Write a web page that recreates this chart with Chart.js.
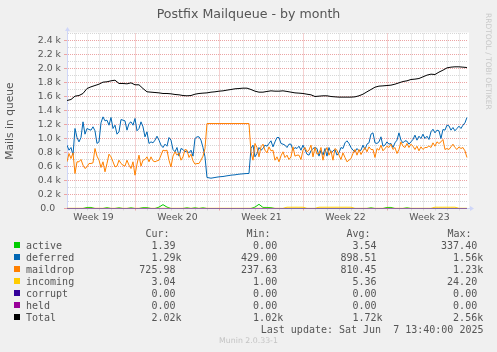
<!DOCTYPE html>
<html>
<head>
<meta charset="utf-8">
<title>Postfix Mailqueue - by month</title>
<script src="https://cdn.jsdelivr.net/npm/chart.js@4/dist/chart.umd.min.js"></script>
<style>
  html, body { margin: 0; padding: 0; background: #f0f0f0; }
  #wrap { position: relative; width: 497px; height: 352px; overflow: hidden; font-family: 'DejaVu Sans'; color: #555; }
  #chart { position: absolute; left: 0; top: 0; }
  .abs { position: absolute; white-space: pre; }
  .mono { font-family: 'DejaVu Sans Mono'; font-size: 10px; line-height: 12px; color: #555; }
  .box { position: absolute; width: 6px; height: 6px; }
  #title { left: 0; width: 497px; top: 6px; text-align: center; font-size: 12.6px; line-height: 15px; color: #555; }
  #munin { left: 0; width: 497px; top: 336px; text-align: center; font-size: 7.8px; line-height: 10px; color: #c4c4c4; }
  #rrd { left: 484px; top: 13px; writing-mode: vertical-rl; font-size: 7.5px; line-height: 9px; color: #c8c8c8; }
</style>
</head>
<body>
<div id="wrap">
  <canvas id="chart" width="497" height="352"></canvas>
  <div id="title" class="abs">Postfix Mailqueue - by month</div>
  <div id="rrd" class="abs">RRDTOOL / TOBI OETIKER</div>
  <div id="legend"></div>
  <div id="munin" class="abs">Munin 2.0.33-1</div>
</div>
<script>
// time axis: days after Monday of week 19
const startDay = 1.29;
const stepCoarse = 1 / 3;   // one sample every 8 hours
const stepFine = 1 / 6;     // one sample every 4 hours
const weekNames = ['Week 19', 'Week 20', 'Week 21', 'Week 22', 'Week 23'];
const yLabels = ['0.0  ', '0.2 k', '0.4 k', '0.6 k', '0.8 k', '1.0 k', '1.2 k', '1.4 k', '1.6 k', '1.8 k', '2.0 k', '2.2 k', '2.4 k'];

// 8-hourly
const active = [0, 0, 0, 0, 0, 15, 15, 0, 0, 0, 12, 0, 0, 10, 0, 0, 10, 0, 0, 12,
  12, 0, 0, 20, 55, 20, 0, 0, 0, 0, 10, 0, 10, 0, 10, 0, 0, 0, 0, 0,
  0, 0, 0, 0, 0, 0, 0, 20, 60, 15, 15, 12, 0, 0, 0, 0, 0, 0, 0, 0,
  0, 0, 0, 0, 0, 0, 0, 0, 0, 0, 0, 0, 0, 0, 0, 0, 10, 0, 0, 0,
  15, 15, 0, 0, 0, 10, 0, 0, 0, 0, 0, 0, 0, 0, 0, 0, 0, 0, 0, 0, 0];

// 4-hourly
const deferred = [905, 833, 871, 762, 1143, 1014, 952, 1014, 1238, 1062, 1143, 1129, 1119, 1167, 1110, 929, 952, 1224, 1309, 1252,
  1262, 1190, 1300, 1143, 1190, 1062, 1095, 1271, 1262, 1252, 1119, 1214, 1238, 1190, 1286, 1110, 1143, 1238, 1167, 1024,
  1095, 929, 952, 938, 976, 1033, 976, 905, 871, 919, 890, 1014, 976, 843, 810, 871, 748, 857, 843, 810,
  824, 795, 833, 748, 1000, 1024, 1024, 976, 871, 738, 443, 438, 433, 438, 443, 448, 452, 455, 457, 462,
  467, 471, 476, 479, 481, 486, 490, 493, 495, 498, 500, 500, 857, 905, 738, 786, 871, 833, 857, 905,
  890, 929, 967, 881, 952, 1014, 1014, 929, 919, 905, 871, 919, 919, 833, 871, 857, 890, 833, 905, 843,
  776, 762, 824, 857, 871, 857, 748, 833, 762, 857, 748, 871, 795, 824, 843, 762, 795, 871, 857, 938,
  967, 929, 871, 833, 810, 857, 824, 833, 905, 843, 919, 938, 1062, 1081, 938, 929, 952, 1024, 890, 905,
  952, 919, 929, 871, 938, 976, 1081, 976, 938, 967, 962, 919, 952, 986, 1048, 976, 1033, 1000, 1062, 1000,
  1033, 986, 1095, 1133, 1081, 1119, 1110, 1000, 1129, 1119, 1190, 1181, 1119, 1157, 1110, 1143, 1176, 1143, 1190, 1224,
  1300];

// 4-hourly
const maildrop = [667, 786, 714, 795, 500, 667, 667, 700, 619, 571, 595, 643, 643, 652, 857, 748, 690, 586, 667, 524,
  643, 776, 738, 667, 595, 605, 690, 643, 619, 605, 690, 619, 571, 667, 476, 633, 762, 605, 690, 700,
  738, 667, 738, 681, 667, 681, 690, 762, 833, 824, 833, 690, 595, 748, 810, 762, 795, 690, 738, 843,
  833, 729, 776, 681, 633, 643, 643, 690, 748, 857, 1214, 1214, 1214, 1214, 1214, 1214, 1214, 1214, 1214, 1214,
  1214, 1214, 1214, 1214, 1214, 1214, 1214, 1214, 1214, 1214, 1214, 1214, 810, 690, 929, 871, 738, 881, 919, 833,
  795, 881, 824, 833, 690, 738, 667, 752, 810, 729, 762, 700, 738, 881, 748, 762, 762, 700, 833, 871,
  810, 833, 905, 738, 871, 776, 786, 871, 690, 810, 871, 762, 824, 690, 857, 833, 762, 700, 795, 729,
  667, 690, 714, 786, 843, 762, 843, 771, 824, 871, 810, 881, 843, 843, 729, 857, 833, 905, 824, 857,
  890, 871, 919, 843, 871, 786, 843, 952, 890, 871, 929, 871, 919, 890, 843, 890, 824, 881, 843, 871,
  871, 895, 871, 938, 890, 952, 929, 952, 986, 843, 857, 843, 881, 919, 871, 843, 881, 857, 871, 824,
  729];

// 8-hourly
const incoming = [3, 3, 3, 3, 3, 3, 3, 3, 3, 3, 3, 3, 3, 3, 3, 3, 3, 3, 3, 3,
  3, 3, 3, 3, 3, 3, 3, 3, 3, 3, 3, 3, 3, 3, 3, 3, 3, 3, 3, 3,
  3, 3, 3, 3, 3, 3, 3, 3, 3, 3, 3, 3, 3, 3, 3, 18, 18, 18, 18, 18,
  3, 3, 3, 18, 18, 18, 18, 18, 18, 18, 18, 18, 3, 3, 3, 3, 3, 3, 3, 3,
  3, 3, 3, 3, 3, 3, 3, 3, 3, 3, 3, 3, 18, 18, 18, 18, 18, 18, 3, 3, 3];

const corrupt = new Array(101).fill(0);
const held = new Array(101).fill(0);

// 8-hourly
const total = [1543, 1557, 1605, 1614, 1643, 1714, 1738, 1757, 1776, 1805,
  1810, 1824, 1833, 1786, 1786, 1781, 1795, 1767, 1767, 1714,
  1667, 1662, 1657, 1652, 1643, 1643, 1638, 1629, 1624, 1614,
  1610, 1614, 1633, 1643, 1648, 1652, 1662, 1667, 1676, 1681,
  1691, 1700, 1710, 1714, 1719, 1719, 1700, 1676, 1662, 1662,
  1672, 1681, 1676, 1676, 1681, 1672, 1662, 1652, 1648, 1643,
  1633, 1624, 1600, 1605, 1610, 1610, 1600, 1595, 1591, 1591,
  1591, 1591, 1595, 1610, 1633, 1667, 1700, 1733, 1748, 1752,
  1757, 1762, 1776, 1795, 1814, 1824, 1843, 1848, 1857, 1881,
  1905, 1919, 1914, 1948, 1976, 2009, 2019, 2024, 2024, 2019, 2014];

// legend table as printed by munin
const legendNames = ['active', 'deferred', 'maildrop', 'incoming', 'corrupt', 'held', 'Total'];
const legendColors = ['#00cc00', '#0066b3', '#ff8000', '#ffcc00', '#330099', '#990099', '#000000'];
const legendCur = ['1.39 ', '1.29k', '725.98 ', '3.04 ', '0.00 ', '0.00 ', '2.02k'];
const legendMin = ['0.00 ', '429.00 ', '237.63 ', '1.00 ', '0.00 ', '0.00 ', '1.02k'];
const legendAvg = ['3.54 ', '898.51 ', '810.45 ', '5.36 ', '0.00 ', '0.00 ', '1.72k'];
const legendMax = ['337.40 ', '1.56k', '1.23k', '24.20 ', '0.00 ', '0.00 ', '2.56k'];

const gridMinor = '#d6d6d6';
const gridMajor = '#eca4a4';
const axisColor = '#cfd6f8';
const clear = 'rgba(0,0,0,0)';

function points(values, step) {
    return values.map((v, i) => ({ x: startDay + i * step, y: v }));
}

const weekCenters = weekNames.map((n, k) => 3.5 + 7 * k);
const xTicks = [];
for (let d = 2; d <= 34; d++) xTicks.push(d);
const xTickValues = xTicks.concat(weekCenters).sort((a, b) => a - b);
const yTickValues = [];
for (let v = 0; v <= 2500; v += 100) yTickValues.push(v);

function xGridColor(c) {
    const v = c.tick ? c.tick.value : 0;
    if (!Number.isInteger(v)) return clear;
    return v % 7 === 0 ? gridMajor : gridMinor;
}
function yGridColor(c) {
    const v = c.tick ? c.tick.value : 0;
    return v % 200 === 0 ? gridMajor : gridMinor;
}

const canvasBg = {
    id: 'canvasBg',
    beforeDraw(chart) {
        const a = chart.chartArea;
        const ctx = chart.ctx;
        ctx.save();
        ctx.fillStyle = '#ffffff';
        ctx.fillRect(a.left, a.top - 1, a.right - a.left + 1, a.bottom - a.top + 1);
        ctx.restore();
    }
};

const axisArrows = {
    id: 'axisArrows',
    afterDraw(chart) {
        const a = chart.chartArea;
        const ctx = chart.ctx;
        const x0 = Math.floor(a.left) + 0.5;
        const y0 = Math.floor(a.bottom) + 0.5;
        ctx.save();
        ctx.strokeStyle = axisColor;
        ctx.fillStyle = axisColor;
        ctx.lineWidth = 1;
        ctx.beginPath();
        ctx.moveTo(x0, a.top);
        ctx.lineTo(x0, a.top - 3);
        ctx.moveTo(a.right - 1, y0);
        ctx.lineTo(a.right + 3, y0);
        ctx.stroke();
        ctx.beginPath();
        ctx.moveTo(x0 - 2.5, a.top - 2.5);
        ctx.lineTo(x0 + 2.5, a.top - 2.5);
        ctx.lineTo(x0, a.top - 6.5);
        ctx.closePath();
        ctx.fill();
        ctx.beginPath();
        ctx.moveTo(a.right + 2, y0 - 2.5);
        ctx.lineTo(a.right + 2, y0 + 2.5);
        ctx.lineTo(a.right + 6, y0);
        ctx.closePath();
        ctx.fill();
        ctx.restore();
    }
};

const tickFont = { family: 'DejaVu Sans', size: 9.33 };

new Chart(document.getElementById('chart'), {
    type: 'line',
    data: {
        datasets: [
            { label: 'active', data: points(active, stepCoarse), borderColor: '#00cc00', order: 7 },
            { label: 'deferred', data: points(deferred, stepFine), borderColor: '#0066b3', order: 6 },
            { label: 'maildrop', data: points(maildrop, stepFine), borderColor: '#ff8000', order: 5 },
            { label: 'incoming', data: points(incoming, stepCoarse), borderColor: '#ffcc00', order: 4 },
            { label: 'corrupt', data: points(corrupt, stepCoarse), borderColor: '#330099', order: 3 },
            { label: 'held', data: points(held, stepCoarse), borderColor: '#b266c8', order: 2 },
            { label: 'Total', data: points(total, stepCoarse), borderColor: '#000000', order: 1 }
        ]
    },
    options: {
        responsive: false,
        animation: false,
        layout: { padding: { left: 0, top: 33.5, right: 29, bottom: 0 } },
        elements: {
            point: { radius: 0 },
            line: { borderWidth: 1, tension: 0, fill: false }
        },
        plugins: {
            legend: { display: false },
            tooltip: { enabled: false }
        },
        scales: {
            x: {
                type: 'linear',
                min: 1.29,
                max: 34.71,
                afterFit: function(s) { s.height = 143.5; },
                afterBuildTicks: function(s) { s.ticks = xTickValues.map(v => ({ value: v })); },
                ticks: {
                    autoSkip: false,
                    maxRotation: 0,
                    padding: 1,
                    color: '#555',
                    font: tickFont,
                    callback: function(value) {
                        const k = weekCenters.indexOf(value);
                        return k >= 0 ? weekNames[k] : '';
                    }
                },
                grid: {
                    color: xGridColor,
                    tickColor: xGridColor,
                    tickLength: 2,
                    lineWidth: 1
                },
                border: { color: axisColor, dash: [1, 1] }
            },
            y: {
                min: 0,
                max: 2500,
                afterFit: function(s) { s.width = 67; },
                afterBuildTicks: function(s) { s.ticks = yTickValues.map(v => ({ value: v })); },
                ticks: {
                    autoSkip: false,
                    padding: 3,
                    color: '#555',
                    font: tickFont,
                    callback: function(value) {
                        return value % 200 === 0 ? yLabels[value / 200] : '';
                    }
                },
                grid: {
                    color: yGridColor,
                    tickColor: c => (c.tick && c.tick.value % 200 === 0) ? gridMajor : clear,
                    tickLength: 3,
                    lineWidth: 1
                },
                border: { color: axisColor, dash: [1, 1] },
                title: {
                    display: true,
                    text: 'Mails in queue',
                    color: '#555',
                    font: { family: 'DejaVu Sans', size: 10.7 },
                    padding: { top: 4, bottom: 0 }
                }
            }
        }
    },
    plugins: [canvasBg, axisArrows]
});

// legend rows below the graph
const legend = document.getElementById('legend');
function addText(text, left, right, top) {
    const el = document.createElement('div');
    el.className = 'abs mono';
    el.textContent = text;
    el.style.top = top + 'px';
    if (left !== null) el.style.left = left + 'px';
    if (right !== null) { el.style.right = right + 'px'; el.style.textAlign = 'right'; }
    legend.appendChild(el);
}
addText('Cur:', 145.5, null, 228);
addText('Min:', 246.5, null, 228);
addText('Avg:', 346.5, null, 228);
addText('Max:', 447.5, null, 228);
legendNames.forEach((name, i) => {
    const top = 240 + 12 * i;
    const box = document.createElement('div');
    box.className = 'box';
    box.style.left = '14px';
    box.style.top = (top + 2) + 'px';
    box.style.background = legendColors[i];
    legend.appendChild(box);
    addText(name, 26, null, top);
    addText(legendCur[i], null, 315.5, top);
    addText(legendMin[i], null, 213.8, top);
    addText(legendAvg[i], null, 114.4, top);
    addText(legendMax[i], null, 13.8, top);
});
addText('Last update: Sat Jun  7 13:40:00 2025', null, 13.5, 324);
</script>
</body>
</html>
